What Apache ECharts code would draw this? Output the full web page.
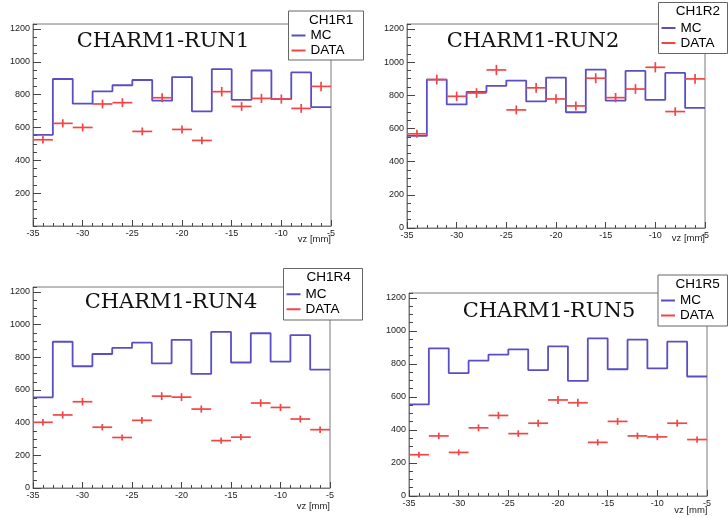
<!DOCTYPE html>
<html>
<head>
<meta charset="utf-8">
<script src="https://cdn.jsdelivr.net/npm/echarts@6/dist/echarts.min.js"></script>
<style>
  html, body { margin: 0; padding: 0; background: #fff; }
  #chart { width: 728px; height: 518px; }
</style>
</head>
<body>
<div id="chart"></div>
<script>
// Vertex position histograms: MC expectation vs measured data, per run
const binEdges = [-35, -33, -31, -29, -27, -25, -23, -21, -19, -17, -15, -13, -11, -9, -7, -5];
const mcCounts = [555, 895, 745, 820, 857, 889, 763, 907, 698, 955, 768, 947, 773, 935, 724];

const run1Counts = [525, 625, 600, 743, 751, 576, 781, 588, 521, 818, 728, 777, 773, 716, 850];
const run1Errors = [23, 25, 24, 27, 27, 24, 28, 24, 23, 29, 27, 28, 28, 27, 29];

const run2Counts = [568, 895, 794, 814, 953, 712, 845, 778, 736, 903, 786, 838, 969, 702, 899];
const run2Errors = [24, 30, 28, 29, 31, 27, 29, 28, 27, 30, 28, 29, 31, 26, 30];

const run4Counts = [402, 447, 528, 372, 309, 414, 562, 556, 483, 290, 311, 520, 493, 422, 357];
const run4Errors = [21, 22, 23, 20, 19, 21, 24, 24, 22, 19, 19, 23, 22, 21, 20];

const run5Counts = [250, 364, 264, 413, 488, 378, 441, 582, 565, 325, 452, 364, 358, 441, 342];
const run5Errors = [18, 20, 18, 21, 22, 20, 21, 24, 24, 19, 21, 20, 20, 21, 19];

const runTitles = ['CHARM1-RUN1', 'CHARM1-RUN2', 'CHARM1-RUN4', 'CHARM1-RUN5'];
const channelNames = ['CH1R1', 'CH1R2', 'CH1R4', 'CH1R5'];
const xAxisTitle = 'vz [mm]';
const seriesNames = ['MC', 'DATA'];

const runs = [
  { counts: run1Counts, errors: run1Errors },
  { counts: run2Counts, errors: run2Errors },
  { counts: run4Counts, errors: run4Errors },
  { counts: run5Counts, errors: run5Errors }
];

// Page layout of the four pads (pixels)
const pads = [
  { grid: [33, 24, 298, 202], title: [163, 41.3], box: [288.5, 11, 75, 49], name: [331, 239.3], showZero: false },
  { grid: [407, 24, 298, 204], title: [533, 41.3], box: [658.5, 2.5, 69, 51], name: [705, 238.5], showZero: true },
  { grid: [33, 287, 297, 201], title: [171, 302.3], box: [283.5, 268.5, 79, 51.5], name: [330, 506], showZero: true },
  { grid: [409, 293, 298, 203], title: [549, 311.7], box: [658, 275, 69.5, 51], name: [707.5, 510.7], showZero: true }
];

const MC_COLOR = '#5a4ec6';
const DATA_COLOR = '#f24646';
const FRAME_COLOR = '#7a7a7a';
const TICK_COLOR = '#444';
const Y_MAX = 1230;

const plainNumber = v => String(v);

const grids = [], xAxes = [], yAxes = [], series = [], legends = [], graphics = [];

pads.forEach((pad, g) => {
  const [gl, gt, gw, gh] = pad.grid;
  grids.push({
    left: gl, top: gt, width: gw, height: gh,
    show: true, borderColor: FRAME_COLOR, borderWidth: 1,
    backgroundColor: 'transparent',
    outerBoundsMode: 'none', containLabel: false
  });

  xAxes.push({
    type: 'value', gridIndex: g, position: 'bottom',
    min: binEdges[0], max: binEdges[binEdges.length - 1], interval: 5,
    axisLine: { show: true, lineStyle: { color: FRAME_COLOR, width: 1 } },
    axisTick: { show: true, inside: true, length: 6, lineStyle: { color: TICK_COLOR } },
    minorTick: { show: true, splitNumber: 5, length: 3, lineStyle: { color: TICK_COLOR } },
    splitLine: { show: false }, minorSplitLine: { show: false },
    axisLabel: { fontSize: 9, fontFamily: 'Liberation Sans', color: '#222', margin: 3, hideOverlap: false, formatter: plainNumber }
  });

  // main y axis: labelled ticks every 200
  yAxes.push({
    type: 'value', gridIndex: g, position: 'left',
    min: 0, max: Y_MAX, interval: 200,
    axisLine: { show: true, lineStyle: { color: FRAME_COLOR, width: 1 } },
    axisTick: { show: true, inside: true, length: 8, lineStyle: { color: TICK_COLOR } },
    splitLine: { show: false },
    axisLabel: {
      fontSize: 9, fontFamily: 'Liberation Sans', color: '#222', margin: 3,
      showMaxLabel: false, showMinLabel: pad.showZero, hideOverlap: false,
      formatter: plainNumber
    }
  });
  // secondary y axis: short ticks every 50
  yAxes.push({
    type: 'value', gridIndex: g, position: 'left',
    min: 0, max: Y_MAX, interval: 50,
    axisLine: { show: false },
    axisTick: { show: true, inside: true, length: 4, lineStyle: { color: TICK_COLOR } },
    splitLine: { show: false },
    axisLabel: { show: false }
  });

  const run = runs[g];

  const mcLine = mcCounts.map((v, i) => [binEdges[i], v]);
  mcLine.push([binEdges[binEdges.length - 1], mcCounts[mcCounts.length - 1]]);
  series.push({
    name: seriesNames[0], type: 'line', step: 'end',
    xAxisIndex: g, yAxisIndex: 2 * g,
    data: mcLine, symbol: 'none', silent: true,
    lineStyle: { color: MC_COLOR, width: 1.8 },
    itemStyle: { color: MC_COLOR },
    z: 2
  });

  const points = run.counts.map((v, i) => [binEdges[i], binEdges[i + 1], v, run.errors[i]]);
  series.push({
    name: seriesNames[1], type: 'custom',
    xAxisIndex: g, yAxisIndex: 2 * g,
    data: points, silent: true,
    encode: { x: [0, 1], y: 2 },
    itemStyle: { color: DATA_COLOR },
    z: 3,
    renderItem: function (params, api) {
      const lo = api.value(0), hi = api.value(1), v = api.value(2), e = api.value(3);
      const mid = (lo + hi) / 2;
      const a = api.coord([lo, v]), b = api.coord([hi, v]);
      const up = api.coord([mid, v + e]), dn = api.coord([mid, v - e]);
      const st = { stroke: DATA_COLOR, lineWidth: 1.7 };
      return {
        type: 'group',
        children: [
          { type: 'line', shape: { x1: a[0], y1: a[1], x2: b[0], y2: b[1] }, style: st },
          { type: 'line', shape: { x1: up[0], y1: up[1], x2: dn[0], y2: dn[1] }, style: st }
        ]
      };
    }
  });

  // legend pad: frame, header, entries
  const [bx, by, bw, bh] = pad.box;
  graphics.push({
    type: 'rect', z: 10,
    shape: { x: bx, y: by, width: bw, height: bh },
    style: { fill: '#fff', stroke: '#666', lineWidth: 1 }
  });
  graphics.push({
    type: 'text', z: 11,
    x: bx + bw * 0.57, y: by + bh * 0.18,
    style: { text: channelNames[g], fill: '#000', font: '13.5px "Liberation Sans"', align: 'center', verticalAlign: 'middle' }
  });
  legends.push({
    data: seriesNames, orient: 'vertical',
    left: bx + 3, top: by + bh * 0.5 - 7,
    itemWidth: 14, itemHeight: 2, icon: 'rect', itemGap: 1, padding: 0,
    selectedMode: false, z: 12,
    textStyle: { fontSize: 13.5, fontFamily: 'Liberation Sans', color: '#000' }
  });

  // run title
  graphics.push({
    type: 'text', z: 9,
    x: pad.title[0], y: pad.title[1],
    style: { text: runTitles[g], fill: '#111', font: '21px "DejaVu Serif"', align: 'center', verticalAlign: 'middle' }
  });

  // x axis title
  graphics.push({
    type: 'text', z: 9,
    x: pad.name[0], y: pad.name[1],
    style: { text: xAxisTitle, fill: '#222', font: '9.5px "Liberation Sans"', align: 'right', verticalAlign: 'middle' }
  });
});

const chart = echarts.init(document.getElementById('chart'), null, { renderer: 'canvas' });
chart.setOption({
  animation: false,
  backgroundColor: '#fff',
  grid: grids,
  xAxis: xAxes,
  yAxis: yAxes,
  legend: legends,
  series: series,
  graphic: { elements: graphics }
});
</script>
</body>
</html>
